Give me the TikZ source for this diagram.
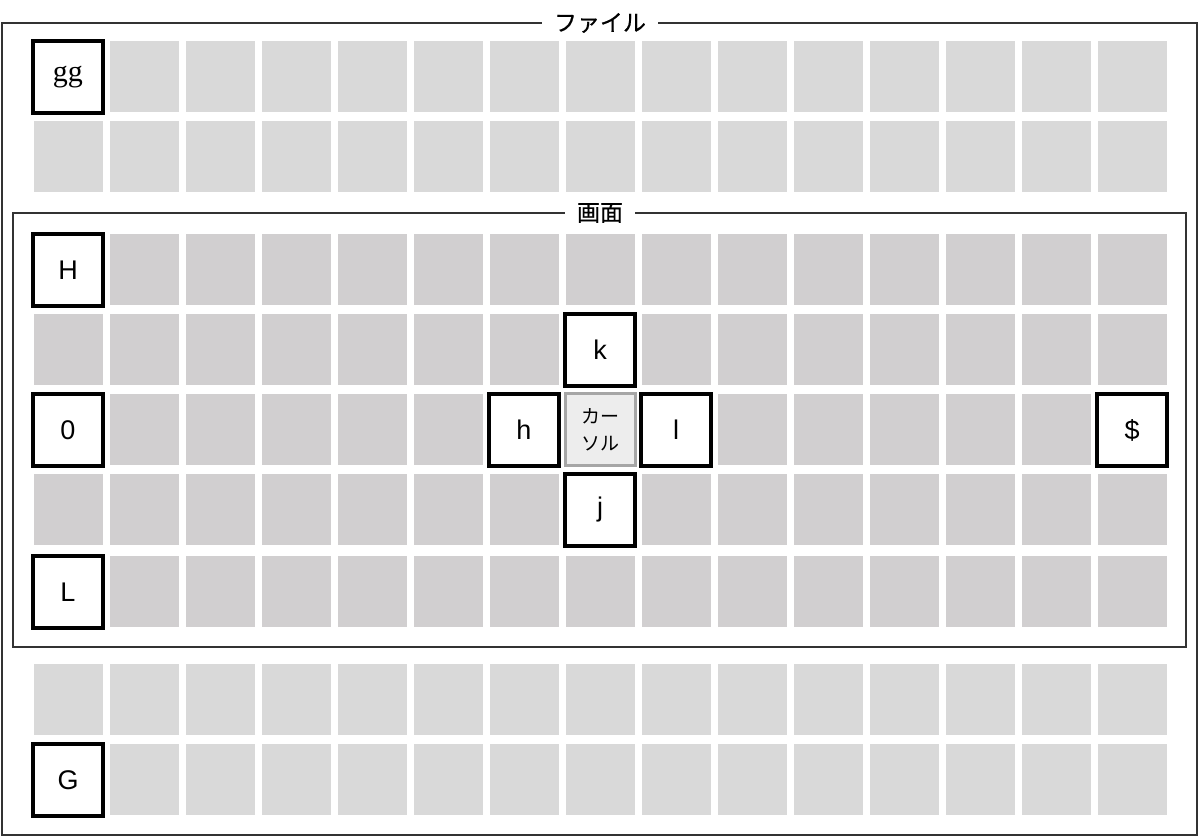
\documentclass[tikz,border=0pt]{standalone}
\usepackage{fontspec}
\setmainfont{Noto Sans CJK JP}
\newfontfamily\serifgg{Liberation Serif}
\newfontfamily\keyfont{Liberation Sans}
\newfontfamily\titlefont[FakeBold=0.6]{Noto Sans CJK JP}
\definecolor{outercell}{HTML}{D9D9D9}
\definecolor{innercell}{HTML}{D1CFD0}
\definecolor{cursorfill}{HTML}{EDEDED}
\definecolor{cursorline}{HTML}{A6A6A6}
\definecolor{framegray}{HTML}{333333}
\begin{document}
\begin{tikzpicture}[x=0.5pt,y=-0.5pt]

    \tikzset{
      cell/.style={
        draw=none,
        inner sep=0pt,
        minimum width=34.5pt,
        minimum height=35.5pt,
      },
      keybox/.style={
        draw=black,
        line width=2pt,
        fill=white,
        inner sep=0pt,
        minimum width=35pt,
        minimum height=36pt,
        font=\keyfont\fontsize{13.5}{13.5}\selectfont,
      },
      cursorbox/.style={
        draw=cursorline,
        line width=1.5pt,
        fill=cursorfill,
        inner sep=0pt,
        minimum width=35pt,
        minimum height=36pt,
        align=center,
        font=\fontsize{9.5}{13.5}\selectfont,
      },
      frame/.style={draw=framegray,line width=0.9pt},
      framelabel/.style={fill=white,inner xsep=6pt,inner ysep=1pt,font=\titlefont\fontsize{11.5}{11.5}\selectfont},
    }
    \useasboundingbox (0,0) rectangle (1200,838);
	\draw[frame] (2,23) rectangle (1197,835);
	\draw[frame] (13,213) rectangle (1186,647);
	% cells of the file
	\foreach \r/\y/\shade in {1/77/outercell,2/157/outercell,3/270/innercell,4/350/innercell,5/430/innercell,6/510/innercell,7/592/innercell,8/700/outercell,9/780/outercell}{
	  \foreach \c in {1,...,15}{
	    \node[cell,fill=\shade] (c-\r-\c) at ({68+76*(\c-1)},\y) {};
	  }
	}
	\node[framelabel] (file) at (600,23) {ファイル};
	\node[framelabel] (screen) at (600,213) {画面};
	% motions
	\node[keybox,font=\serifgg\fontsize{15}{15}\selectfont] (gg) at (c-1-1) {gg};
	\node[keybox] (H) at (c-3-1) {H};
	\node[keybox] (k) at (c-4-8) {k};
	\node[keybox] (zero) at (c-5-1) {0};
	\node[keybox] (h) at (c-5-7) {h};
	\node[cursorbox] (cursor) at (c-5-8) {カー\\ソル};
	\node[keybox] (l) at (c-5-9) {l};
	\node[keybox] (dollar) at (c-5-15) {\$};
	\node[keybox] (j) at (c-6-8) {j};
	\node[keybox] (L) at (c-7-1) {L};
	\node[keybox] (G) at (c-9-1) {G};

\end{tikzpicture}
\end{document}
